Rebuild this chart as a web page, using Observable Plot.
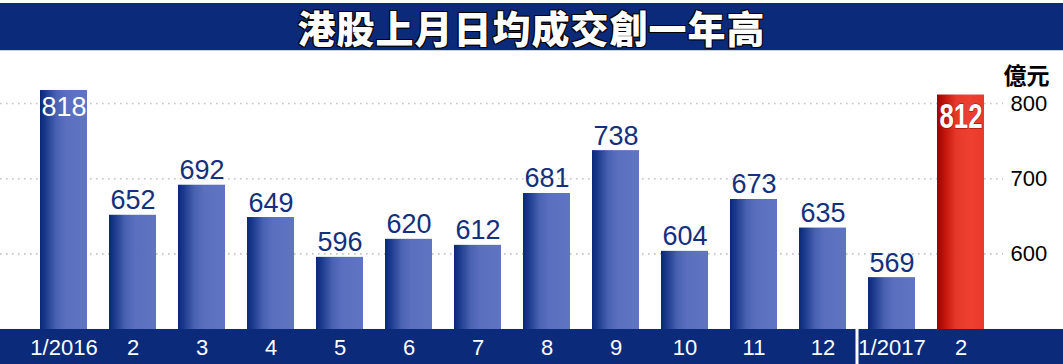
<!DOCTYPE html>
<html><head><meta charset="utf-8">
<script src="https://cdn.jsdelivr.net/npm/d3@7"></script>
<script src="https://cdn.jsdelivr.net/npm/@observablehq/plot@0.6"></script>
<style>
html,body{margin:0;padding:0;background:#fff;}
body{width:1063px;height:364px;overflow:hidden;font-family:"Liberation Sans",Arial,sans-serif;}
#title{margin-top:3px;height:47px;background:#0b2a7a;color:#fff;display:flex;align-items:center;justify-content:center;
  border-bottom:1px solid #c9d0e2;}
#title span{font:900 38px/44px "Noto Sans CJK TC","Noto Sans CJK SC",sans-serif;letter-spacing:1px;
  text-shadow:1px 1px 0 #000,-1px 1px 0 #000,1px -1px 0 #000,-1px -1px 0 #000;}
#chart{margin-top:1px;height:312px;background:linear-gradient(to bottom,transparent 0,transparent 277px,#0b2a7a 277px,#0b2a7a 100%);}
</style></head><body>
<div id="title"><span></span></div>
<div id="chart"></div>
<script>
const titleText = "港股上月日均成交創一年高";
const unitLabel = "億元";
const months = ["2016-01","2016-02","2016-03","2016-04","2016-05","2016-06","2016-07","2016-08","2016-09","2016-10","2016-11","2016-12","2017-01","2017-02"];
const monthLabels = ["1/2016","2","3","4","5","6","7","8","9","10","11","12","1/2017","2"];
const turnover = [818,652,692,649,596,620,612,681,738,604,673,635,569,812];
const yTicks = [600,700,800];
const yBase = 500;
const yTop = 830;

document.querySelector("#title span").textContent = titleText;

const data = months.map((m, i) => ({month: m, value: turnover[i], i}));
const last = data.length - 1;
const outside = data.filter(d => d.i !== 0 && d.i !== last);
const firstBar = data.filter(d => d.i === 0);
const lastBar = data.filter(d => d.i === last);

const decor = (index, scales, values, dims) => {
  const g = d3.create("svg:g");
  const defs = g.append("defs");
  const bg = defs.append("linearGradient").attr("id","gBlue").attr("x1","0").attr("x2","1").attr("y1","0").attr("y2","0");
  [[0,"#0a2878"],[0.12,"#1c3a8c"],[0.35,"#4a62b2"],[0.55,"#5a6fbe"],[1,"#5f75c2"]].forEach(([o,c]) => bg.append("stop").attr("offset",o).attr("stop-color",c));
  const rg = defs.append("linearGradient").attr("id","gRed").attr("x1","0").attr("x2","1").attr("y1","0").attr("y2","0");
  [[0,"#9e0000"],[0.15,"#c01208"],[0.4,"#e4382a"],[0.7,"#ee4030"],[1,"#e8392a"]].forEach(([o,c]) => rg.append("stop").attr("offset",o).attr("stop-color",c));
  const xEnd = dims.width - dims.marginRight + 7;
  for (const t of yTicks) {
    g.append("line").attr("x1",0).attr("x2",xEnd).attr("y1",scales.y(t)).attr("y2",scales.y(t))
      .attr("stroke","#c4c4c4").attr("stroke-width",1.6).attr("stroke-dasharray","1.6,4.4");
  }
  return g.node();
};

const separator = (index, scales, values, dims) => {
  const a = scales.x(months[11]), b = scales.x(months[12]);
  const bw = scales.x.bandwidth ? scales.x.bandwidth() : (b - a) * 0.68;
  const sx = (a + b) / 2 + bw / 2;
  const y0 = dims.height - dims.marginBottom;
  return d3.create("svg:line").attr("x1",sx).attr("x2",sx).attr("y1",y0).attr("y2",dims.height)
    .attr("stroke","#fff").attr("stroke-width",3).node();
};

const chart = Plot.plot({
  width: 1063,
  height: 312,
  marginLeft: 27,
  marginRight: 67,
  marginTop: 29,
  marginBottom: 35,
  style: {background: "transparent", fontFamily: "'Liberation Sans', Arial, sans-serif", overflow: "visible"},
  x: {domain: months, paddingInner: 0.32, paddingOuter: 0.16, align: 0.5, label: null,
      tickSize: 0, tickPadding: 10, tickFormat: (d) => monthLabels[months.indexOf(d)]},
  y: {domain: [yBase, yTop], ticks: yTicks, label: null, axis: "right", tickSize: 0, tickPadding: 14},
  marks: [
    decor,
    Plot.barY(data, {x: "month", y1: () => yBase, y2: "value", fill: d => d.i === last ? "url(#gRed)" : "url(#gBlue)"}),
    Plot.text(outside, {x: "month", y: "value", text: d => String(d.value), dy: -6, lineAnchor: "bottom",
      fill: "#13307f", fontSize: 27, fontFamily: "'Liberation Sans', Arial, sans-serif"}),
    Plot.text(firstBar, {x: "month", y: "value", text: d => String(d.value), dy: 6, lineAnchor: "top",
      fill: "#fff", fontSize: 27, fontFamily: "'Liberation Sans', Arial, sans-serif"}),
    Plot.text(lastBar, {x: "month", y: "value", text: d => String(d.value), dy: 8, lineAnchor: "top",
      fill: "#fff", fontSize: 35, fontWeight: "bold", fontFamily: "'Liberation Sans Narrow', 'Liberation Sans', sans-serif",
      stroke: "#8a0a00", strokeWidth: 1, paintOrder: "stroke"}),
    Plot.text([unitLabel], {frameAnchor: "top-right", text: d => d, dx: 30, dy: -5, textAnchor: "middle", lineAnchor: "middle",
      fill: "#000", fontSize: 23, fontWeight: 700, fontFamily: "'Noto Sans CJK TC', sans-serif"}),
    separator
  ]
});
chart.querySelectorAll('g[aria-label="x-axis tick label"] text, g[aria-label="x-axis"] text').forEach(t => {t.setAttribute("fill","#fff");});
const xa = chart.querySelector('g[aria-label="x-axis tick label"]') || chart.querySelector('g[aria-label="x-axis"]');
if (xa) { xa.setAttribute("font-size", "22"); xa.setAttribute("fill", "#fff"); }
const ya = chart.querySelector('g[aria-label="y-axis tick label"]') || chart.querySelector('g[aria-label="y-axis"]');
if (ya) { ya.setAttribute("font-size", "22"); ya.setAttribute("fill", "#000"); }
document.getElementById("chart").appendChild(chart);
// condense the highlighted value label horizontally around its own centre (local coordinates)
const texts = Array.from(chart.querySelectorAll('g[aria-label="text"] text')).filter(t => t.textContent === String(turnover[last]));
for (const t of texts) {
  const bb = t.getBBox();
  const cx = bb.x + bb.width / 2;
  const prev = t.getAttribute("transform") || "";
  const k = bb.width > 46 ? 43 / bb.width : 1;
  t.setAttribute("transform", `${prev} translate(${cx},0) scale(${k},1) translate(${-cx},0)`);
}
</script>
</body></html>
